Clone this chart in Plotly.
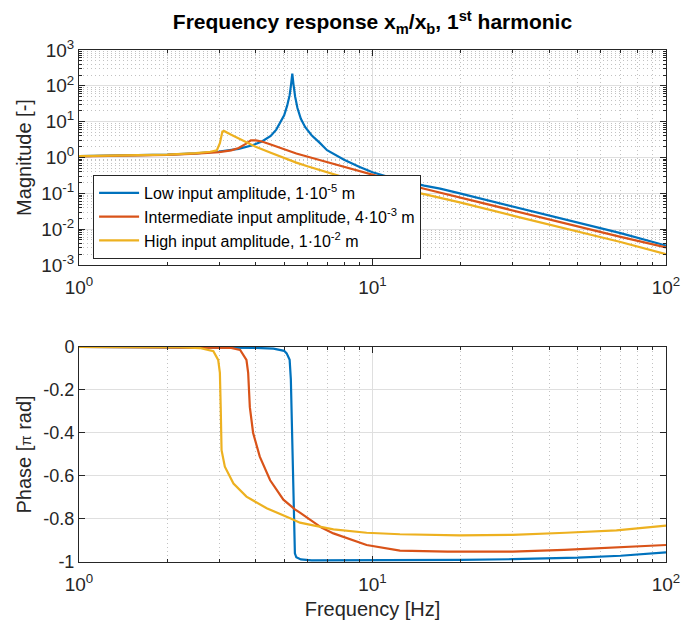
import plotly.graph_objects as go

# ---------------- data ----------------
series_names = [
    "Low input amplitude, 1·10<sup>-5</sup> m",
    "Intermediate input amplitude, 4·10<sup>-3</sup> m",
    "High input amplitude, 1·10<sup>-2</sup> m",
]
series_colors = ["#0072BD", "#D95319", "#EDB120"]

# magnitude |x_m/x_b|
low_mag_f = [1.0, 1.5, 2.0, 2.5, 3.0, 3.5, 3.9, 4.2, 4.5, 4.7, 4.85, 5.0, 5.12, 5.22, 5.28, 5.33,
             5.38, 5.45, 5.55, 5.7, 5.9, 6.2, 6.6, 7.0, 8.0, 9.0, 10, 11, 12, 15, 17, 20, 30, 50, 70, 100]
low_mag = [1.10, 1.14, 1.20, 1.30, 1.47, 1.75, 2.2, 2.8, 4.0, 6.0, 9.5, 15, 28, 55, 110, 220,
           110, 50, 24, 12, 7.0, 4.2, 2.6, 1.6, 0.87, 0.55, 0.39, 0.31, 0.25, 0.165, 0.135, 0.098,
           0.043, 0.0155, 0.0078, 0.0035]

mid_mag_f = [1.0, 1.5, 2.0, 2.5, 3.0, 3.3, 3.5, 3.7, 3.8, 3.85, 4.0, 4.2, 4.5, 5.0, 5.5, 6.6, 8.0,
             9.5, 12, 15, 17, 20, 30, 50, 70, 100]
mid_mag = [1.08, 1.12, 1.18, 1.28, 1.42, 1.58, 1.85, 2.4, 2.85, 3.0, 3.0, 2.8, 2.3, 1.7, 1.3, 0.85,
           0.55, 0.36, 0.22, 0.135, 0.105, 0.076, 0.033, 0.0118, 0.0061, 0.0031]

high_mag_f = [1.0, 1.5, 2.0, 2.5, 2.8, 2.95, 3.02, 3.08, 3.12, 3.3, 3.6, 4.0, 4.5, 5.0, 5.5, 6.0,
              7.0, 7.5, 8.0, 10, 12, 15, 17, 20, 30, 50, 70, 100]
high_mag = [1.10, 1.14, 1.20, 1.32, 1.45, 1.6, 2.5, 5.3, 5.5, 4.3, 3.0, 2.0, 1.35, 0.95, 0.72, 0.57,
            0.39, 0.33, 0.28, 0.19, 0.135, 0.095, 0.075, 0.055, 0.024, 0.0086, 0.0044, 0.0020]

# phase [pi rad]
low_ph_f = [1.0, 3.0, 4.0, 4.6, 5.0, 5.10, 5.22, 5.27, 5.33, 5.40, 5.44, 5.5, 5.7, 6.2, 10, 20,
            30, 50, 70, 100]
low_ph = [0.0, -0.002, -0.004, -0.008, -0.018, -0.03, -0.06, -0.15, -0.5, -0.85, -0.96, -0.978,
          -0.988, -0.992, -0.992, -0.99, -0.987, -0.98, -0.971, -0.955]

mid_ph_f = [1.0, 3.0, 3.3, 3.54, 3.72, 3.77, 3.82, 3.92, 4.13, 4.48, 4.97, 5.44, 5.66, 6.7, 7.36,
            9.55, 12.4, 18, 30, 45, 68, 100]
mid_ph = [0.0, -0.001, -0.004, -0.014, -0.06, -0.12, -0.28, -0.40, -0.51, -0.62, -0.71, -0.755,
          -0.77, -0.84, -0.867, -0.921, -0.947, -0.952, -0.952, -0.944, -0.933, -0.921]

high_ph_f = [1.0, 2.21, 2.58, 2.87, 2.98, 3.02, 3.04, 3.06, 3.14, 3.36, 3.72, 4.36, 5.24, 5.66,
             6.28, 7.36, 9.55, 12.4, 19.8, 30, 45.6, 67.8, 100]
high_ph = [0.0, -0.001, -0.005, -0.02, -0.06, -0.12, -0.28, -0.48, -0.557, -0.635, -0.696, -0.75,
           -0.797, -0.817, -0.83, -0.848, -0.864, -0.871, -0.876, -0.874, -0.864, -0.853, -0.831]

# axis ticks
x_tickvals = [1, 10, 100]
x_ticktext = ["10<sup>0</sup>", "10<sup>1</sup>", "10<sup>2</sup>"]
mag_tickvals = [1e-3, 1e-2, 1e-1, 1, 10, 100, 1000]
mag_ticktext = ["10<sup>-3</sup>", "10<sup>-2</sup>", "10<sup>-1</sup>", "10<sup>0</sup>",
                "10<sup>1</sup>", "10<sup>2</sup>", "10<sup>3</sup>"]
ph_tickvals = [-1, -0.8, -0.6, -0.4, -0.2, 0]
ph_ticktext = ["-1", "-0.8", "-0.6", "-0.4", "-0.2", "0"]

# minor (2..9) positions in each decade
x_minor = [k * 10 ** n for n in range(0, 2) for k in range(2, 10)]
mag_minor = [k * 10.0 ** n for n in range(-3, 3) for k in range(2, 10)]

# ---------------- figure ----------------
FONT = "Liberation Sans, Arial, sans-serif"
AX = "#262626"
GRID = "#dfdfdf"
MINOR = "#c2c2c2"
DOTS = "1px,3px"

fig = go.Figure()
mag_sets = [(low_mag_f, low_mag), (mid_mag_f, mid_mag), (high_mag_f, high_mag)]
ph_sets = [(low_ph_f, low_ph), (mid_ph_f, mid_ph), (high_ph_f, high_ph)]
for name, col, (fx, fy) in zip(series_names, series_colors, mag_sets):
    fig.add_trace(go.Scatter(x=fx, y=fy, mode="lines", name=name, xaxis="x", yaxis="y",
                             line=dict(color=col, width=2.2)))
for name, col, (fx, fy) in zip(series_names, series_colors, ph_sets):
    fig.add_trace(go.Scatter(x=fx, y=fy, mode="lines", name=name, xaxis="x2", yaxis="y2",
                             showlegend=False, line=dict(color=col, width=2.2)))

common_x = dict(type="log", range=[0, 2], tickmode="array", tickvals=x_tickvals,
                ticktext=x_ticktext, showline=True, linecolor=AX, linewidth=1, mirror="ticks",
                ticks="inside", ticklen=6, tickcolor=AX, showgrid=True, gridcolor=GRID,
                gridwidth=1, zeroline=False, tickfont=dict(family=FONT, size=19, color=AX),
                automargin=False, ticklabelstandoff=5,
                minor=dict(tickmode="array", tickvals=x_minor, ticks="inside", ticklen=3,
                           tickcolor=AX, showgrid=True, gridcolor=MINOR, griddash=DOTS,
                           gridwidth=1))

fig.update_layout(
    width=682, height=629,
    margin=dict(l=79, r=16, t=50, b=67, autoexpand=False),
    paper_bgcolor="white", plot_bgcolor="white",
    font=dict(family=FONT, color=AX),
    title=dict(text="<b>Frequency response x<sub>m</sub>/x<sub>b</sub>, 1<sup>st</sup> harmonic</b>",
               x=0.5, xref="paper", xanchor="center", y=1 - 22 / 629, yref="container",
               yanchor="middle", font=dict(family=FONT, size=21, color="black")),
    xaxis=dict(common_x, anchor="y", domain=[0, 1]),
    xaxis2=dict(common_x, anchor="y2", domain=[0, 1],
                title=dict(text="Frequency [Hz]", standoff=8,
                           font=dict(family=FONT, size=20, color=AX))),
    yaxis=dict(type="log", range=[-3, 3], domain=[0.58, 1], anchor="x", tickmode="array",
               tickvals=mag_tickvals, ticktext=mag_ticktext, showline=True, linecolor=AX,
               linewidth=1, mirror="ticks", ticks="inside", ticklen=6, tickcolor=AX,
               showgrid=True, gridcolor=GRID, zeroline=False, automargin=False,
               tickfont=dict(family=FONT, size=19, color=AX),
               title=dict(text="Magnitude [-]", standoff=4,
                          font=dict(family=FONT, size=20, color=AX)),
               minor=dict(tickmode="array", tickvals=mag_minor, ticks="inside", ticklen=3,
                          tickcolor=AX, showgrid=True, gridcolor=MINOR, griddash=DOTS,
                          gridwidth=1)),
    yaxis2=dict(range=[-1, 0], domain=[0, 0.42], anchor="x2", tickmode="array",
                tickvals=ph_tickvals, ticktext=ph_ticktext, showline=True, linecolor=AX,
                linewidth=1, mirror="ticks", ticks="inside", ticklen=6, tickcolor=AX,
                showgrid=True, gridcolor=GRID, zeroline=False, automargin=False,
                tickfont=dict(family=FONT, size=18, color=AX),
                title=dict(text="Phase [<span style='font-size:15px'>π</span> rad]", standoff=6,
                           font=dict(family=FONT, size=20, color=AX))),
    legend=dict(x=0.024, y=0.756, xanchor="left", yanchor="top", bgcolor="white",
                bordercolor=AX, borderwidth=1, font=dict(family=FONT, size=16, color="black"),
                tracegroupgap=0, itemwidth=40),
    showlegend=True,
)

fig.write_html("out.html")
